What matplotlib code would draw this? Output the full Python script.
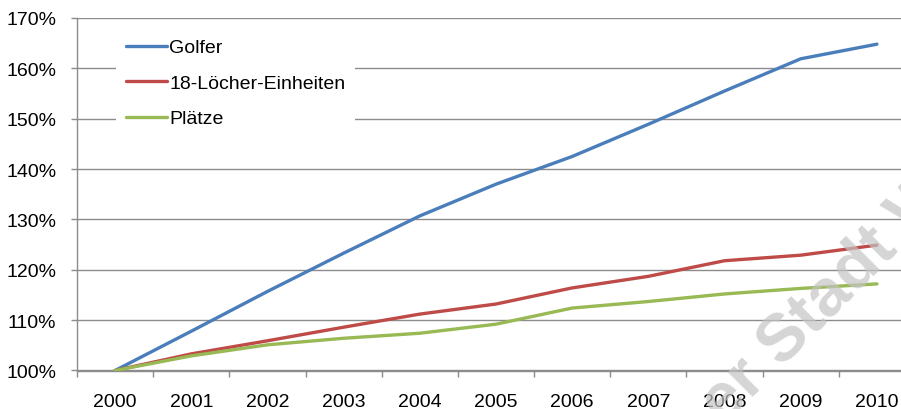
import matplotlib
matplotlib.use("Agg")
import matplotlib.pyplot as plt
from matplotlib.ticker import FixedLocator, FuncFormatter

plt.rcParams['font.family'] = ['Liberation Sans', 'DejaVu Sans']

years = ['2000', '2001', '2002', '2003', '2004', '2005', '2006', '2007', '2008', '2009', '2010']
golfer = [100.0, 107.8, 115.7, 123.3, 130.7, 137.0, 142.5, 148.9, 155.5, 161.9, 164.8]
loecher = [100.0, 103.3, 105.9, 108.6, 111.2, 113.2, 116.4, 118.7, 121.8, 122.9, 124.9]
plaetze = [100.0, 102.9, 105.1, 106.4, 107.4, 109.2, 112.4, 113.7, 115.2, 116.3, 117.2]
series_names = ['Golfer', '18-Löcher-Einheiten', 'Plätze']
colors = ['#4a7ebb', '#be4b48', '#98b954']

W, H = 901, 410
fig = plt.figure(figsize=(W / 100, H / 100), dpi=100)
ax = fig.add_axes([77 / W, (H - 371.5) / H, 838 / W, 352.5 / H])

x = list(range(len(years)))
for vals, name, c in zip([golfer, loecher, plaetze], series_names, colors):
    ax.plot(x, [v / 100 for v in vals], color=c, lw=2.4, label=name,
            solid_capstyle='round', solid_joinstyle='round', zorder=3)

ax.set_xlim(-0.5, len(years) - 0.5)
ax.set_ylim(1.0, 1.7)
ax.yaxis.set_major_locator(FixedLocator([1.0 + 0.1 * i for i in range(8)]))
ax.yaxis.set_major_formatter(FuncFormatter(lambda v, p: f"{v * 100:.0f}%"))
ax.grid(axis='y', color='#8c8c8c', lw=1.0, zorder=0)

ax.set_xticks(x)
ax.set_xticklabels(years)
ax.set_xticks([i - 0.5 for i in range(len(years) + 1)], minor=True)
ax.tick_params(axis='x', which='major', length=0, pad=16, labelsize=14, colors='black')
ax.tick_params(axis='x', which='minor', length=4.5, width=1.0, color='#8c8c8c')
ax.tick_params(axis='y', which='major', length=4, width=1.0, color='#8c8c8c', pad=11, labelsize=14)

for s in ['top', 'right']:
    ax.spines[s].set_visible(False)
for s in ['left', 'bottom']:
    ax.spines[s].set_color('#8c8c8c')
    ax.spines[s].set_linewidth(1.0)

leg = ax.legend(loc='upper left', bbox_to_anchor=(116 / W, (H - 30) / H),
                bbox_transform=fig.transFigure, frameon=True, fancybox=False,
                fontsize=14, handlelength=2.1, handletextpad=0.15,
                labelspacing=0.92, borderpad=0.5, borderaxespad=0)
leg.get_frame().set_facecolor('white')
leg.get_frame().set_edgecolor('none')
leg.get_frame().set_alpha(1.0)
leg.set_zorder(4)

# faint diagonal watermark across the lower right
fig.text(724 / W, (H - 426) / H, 'er Stadt W', fontsize=48, fontweight='bold',
         color='#c4c4c4', alpha=0.7, rotation=45, rotation_mode='anchor',
         ha='left', va='baseline', zorder=10)

fig.savefig('out.png', dpi=100)
